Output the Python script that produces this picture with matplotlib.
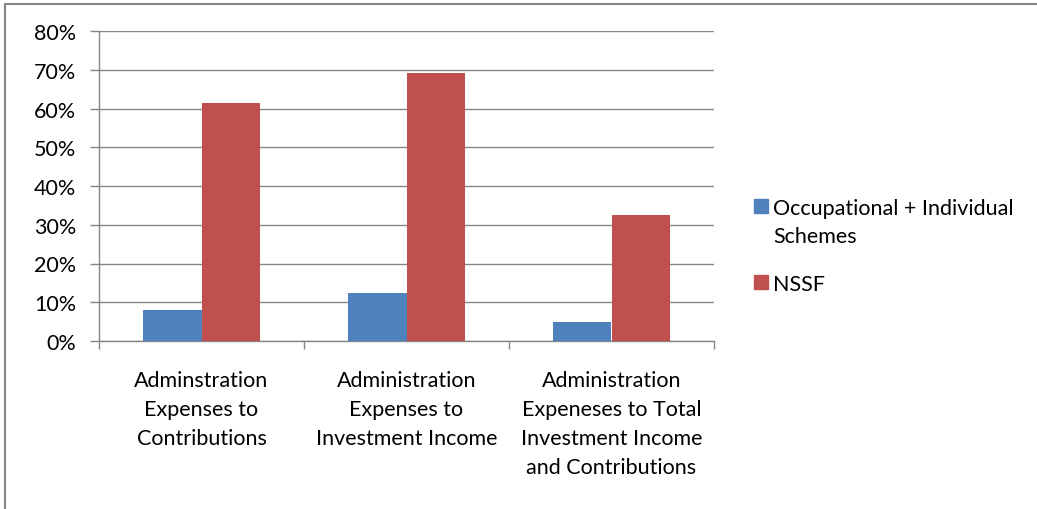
import numpy as np
import matplotlib.pyplot as plt
from matplotlib.patches import Rectangle

categories = ['Adminstration\nExpenses to\nContributions',
              'Administration\nExpenses to\nInvestment Income',
              'Administration\nExpeneses to Total\nInvestment Income\nand Contributions']
occ_ind = [0.081, 0.123, 0.048]
nssf = [0.615, 0.692, 0.325]
series_names = ['Occupational + Individual\nSchemes', 'NSSF']
colors = ['#4F81BD', '#C0504D']
yticks = [0, 0.1, 0.2, 0.3, 0.4, 0.5, 0.6, 0.7, 0.8]

plt.rcParams['font.family'] = ['Lato', 'DejaVu Sans']
fs = 15.5
W, H = 1037, 510
fig = plt.figure(figsize=(W/100, H/100), dpi=100)
fig.patches.append(Rectangle((5/W, -0.1), 1.2, 1 - 5/H + 0.1, transform=fig.transFigure,
                             fill=False, edgecolor='#868686', linewidth=1.5))

ax = fig.add_axes([99/W, 1 - 342/H, (714 - 99)/W, (342 - 32)/H])
x = np.arange(len(categories))
bw = 0.284
ax.bar(x - bw/2, occ_ind, bw, color=colors[0], zorder=3)
ax.bar(x + bw/2, nssf, bw, color=colors[1], zorder=3)

ax.set_xlim(-0.5, 2.5)
ax.set_ylim(0, 0.8)
ax.set_yticks(yticks)
ax.set_yticklabels(['%d%%' % round(v * 100) for v in yticks], fontsize=fs)
ax.yaxis.grid(True, color='#868686', linewidth=1)
ax.set_axisbelow(True)
for s in ['top', 'right']:
    ax.spines[s].set_visible(False)
for s in ['left', 'bottom']:
    ax.spines[s].set_color('#868686')
    ax.spines[s].set_linewidth(1)
ax.tick_params(axis='y', length=6.5, width=1, color='#868686', pad=10)
ax.set_xticks([-0.5, 0.5, 1.5, 2.5])
ax.set_xticklabels([])
ax.tick_params(axis='x', length=6, width=1, color='#868686')
for i, lab in enumerate(categories):
    ax.text(i, -0.075, lab, ha='center', va='top', fontsize=fs, linespacing=1.56)

# legend, drawn by hand so the swatch sits next to the first text line
leg_y = [207, 283]
for name, c, yy in zip(series_names, colors, leg_y):
    fig.patches.append(Rectangle((754/W, 1 - (yy + 7)/H), 14/W, 14/H,
                                 transform=fig.transFigure, color=c))
    fig.text(773/W, 1 - (yy - 8)/H, name, ha='left', va='top', fontsize=fs, linespacing=1.5)

fig.savefig('out.png', dpi=100)
